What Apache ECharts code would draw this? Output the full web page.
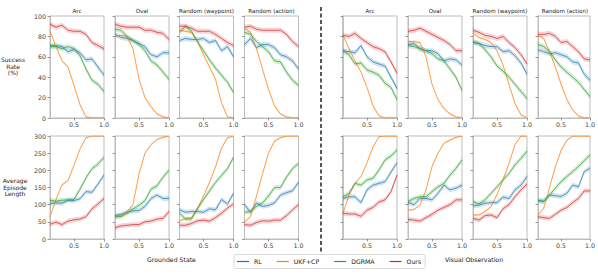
<!DOCTYPE html>
<html><head><meta charset="utf-8">
<script src="https://cdn.jsdelivr.net/npm/echarts@6/dist/echarts.min.js"></script>
<style>html,body{margin:0;padding:0;background:#fff}#c{width:598px;height:276px}</style>
</head><body><div id="c"></div>
<script>
// ---------- data ----------
const xs = [0.1, 0.2, 0.3, 0.4, 0.5, 0.6, 0.7, 0.8, 0.9, 1.0];
const methodNames = ['RL', 'UKF+CP', 'DGRMA', 'Ours'];
const columnTitles = ['Arc', 'Oval', 'Random (waypoint)', 'Random (action)'];
const xTickValues = [0.5, 1.0];
const groupLabels = ['Grounded State', 'Visual Observation'];
const rowLabels = ['Success\nRate\n(%)', 'Average\nEpisode\nLength'];

// Success rate (%) — order of rows: RL, UKF+CP, DGRMA, Ours
const srGroundedArc = [
  [71, 71, 70, 65, 67, 64, 57, 58, 50, 42],
  [85, 70, 56, 50, 32, 13, 1, 0, 0, 0],
  [70, 70, 68, 70, 68, 61, 48, 37, 33, 26],
  [92, 89, 91, 86, 85, 85, 82, 74, 71, 68]
];
const srGroundedOval = [
  [82, 79, 78, 76, 73, 70, 62, 60, 64, 64],
  [80, 81, 80, 68, 38, 20, 11, 4, 1, 0],
  [87, 86, 80, 76, 72, 66, 56, 52, 45, 38],
  [92, 90, 89, 89, 89, 86, 86, 84, 83, 77]
];
const srGroundedWaypoint = [
  [76, 78, 77, 77, 78, 74, 76, 66, 70, 60],
  [86, 85, 84, 75, 62, 50, 38, 15, 1, 0],
  [84, 90, 85, 75, 66, 57, 49, 42, 35, 25],
  [90, 90, 88, 85, 85, 85, 82, 78, 74, 71]
];
const srGroundedAction = [
  [72, 78, 69, 72, 72, 69, 62, 60, 56, 48],
  [88, 84, 68, 48, 28, 12, 4, 1, 0, 0],
  [84, 82, 75, 70, 65, 56, 55, 45, 37, 32],
  [89, 90, 87, 86, 86, 86, 86, 82, 75, 70]
];
const srVisualArc = [
  [66, 65, 64, 71, 60, 55, 53, 51, 40, 29],
  [81, 68, 56, 45, 30, 12, 2, 0, 0, 0],
  [66, 62, 53, 54, 47, 45, 42, 34, 30, 18],
  [81, 80, 83, 78, 74, 70, 68, 65, 55, 44]
];
const srVisualOval = [
  [72, 73, 68, 66, 66, 63, 56, 58, 57, 52],
  [75, 75, 74, 60, 33, 18, 9, 4, 1, 0],
  [71, 70, 68, 66, 63, 58, 56, 48, 40, 27],
  [85, 86, 88, 85, 82, 79, 76, 72, 66, 66]
];
const srVisualWaypoint = [
  [74, 73, 71, 70, 70, 65, 66, 61, 54, 43],
  [83, 79, 77, 74, 66, 52, 33, 14, 3, 0],
  [75, 73, 67, 60, 51, 46, 40, 33, 26, 19],
  [86, 84, 81, 80, 78, 80, 74, 69, 62, 53]
];
const srVisualAction = [
  [67, 65, 63, 64, 62, 60, 55, 54, 43, 37],
  [81, 78, 65, 50, 33, 18, 8, 2, 0, 0],
  [72, 70, 65, 57, 50, 45, 40, 35, 28, 21],
  [82, 82, 83, 80, 74, 75, 70, 65, 58, 57]
];

// Average episode length
const lenGroundedArc = [
  [103, 105, 104, 113, 112, 117, 138, 136, 160, 186],
  [65, 115, 158, 170, 215, 262, 295, 300, 300, 300],
  [113, 110, 113, 114, 115, 145, 178, 205, 218, 238],
  [43, 49, 42, 52, 56, 58, 65, 88, 102, 118]
];
const lenGroundedOval = [
  [68, 72, 78, 82, 83, 95, 118, 128, 118, 118],
  [66, 68, 80, 100, 190, 250, 275, 290, 296, 300],
  [65, 65, 75, 88, 98, 112, 145, 155, 180, 200],
  [33, 38, 40, 42, 42, 50, 52, 58, 60, 80]
];
const lenGroundedWaypoint = [
  [85, 78, 80, 80, 78, 88, 85, 115, 102, 133],
  [52, 60, 62, 90, 125, 165, 210, 265, 295, 300],
  [75, 58, 58, 88, 115, 140, 165, 185, 205, 238],
  [40, 40, 45, 53, 55, 52, 62, 75, 90, 102]
];
const lenGroundedAction = [
  [100, 78, 105, 95, 98, 105, 128, 135, 140, 165],
  [50, 65, 125, 190, 250, 285, 295, 300, 300, 300],
  [78, 80, 95, 105, 125, 150, 150, 180, 205, 220],
  [42, 40, 48, 53, 52, 55, 55, 68, 85, 100]
];
const lenVisualArc = [
  [118, 123, 123, 106, 143, 157, 162, 167, 195, 222],
  [75, 128, 162, 182, 222, 268, 298, 300, 300, 300],
  [123, 133, 162, 157, 172, 177, 201, 230, 242, 259],
  [75, 73, 73, 66, 84, 92, 108, 114, 138, 186]
];
const lenVisualOval = [
  [106, 100, 118, 118, 114, 133, 157, 143, 148, 157],
  [84, 86, 99, 143, 211, 250, 279, 288, 296, 300],
  [109, 118, 123, 123, 138, 152, 162, 186, 206, 230],
  [57, 55, 52, 62, 72, 84, 92, 100, 114, 114]
];
const lenVisualWaypoint = [
  [96, 99, 104, 106, 106, 122, 118, 143, 157, 182],
  [70, 70, 80, 94, 130, 172, 220, 275, 300, 300],
  [109, 102, 114, 133, 152, 172, 191, 216, 235, 256],
  [60, 55, 68, 70, 62, 88, 100, 123, 143, 160]
];
const lenVisualAction = [
  [112, 110, 128, 126, 124, 133, 157, 152, 196, 206],
  [70, 90, 150, 210, 258, 288, 300, 300, 300, 300],
  [112, 110, 128, 148, 167, 182, 196, 211, 228, 245],
  [65, 62, 60, 72, 84, 92, 106, 118, 140, 140]
];

// half-width of the shaded band (std) per method
const bandSR = [2.5, 1.2, 2.5, 2.5];
const bandLen = [7, 3, 7, 7];

// ---------- layout / style ----------
const colors = ['#1f77b4', '#ff7f0e', '#2ca02c', '#d62728'];
const panelLefts = [50, 115, 179.5, 244.5, 343, 408, 473, 538];
const panelWidth = 54;
const rowTops = [16, 136];
const rowHeights = [102, 103];
const rowMax = [100, 300];
const rowInterval = [20, 50];
const spine = '#bdbdbd';
const font = 'DejaVu Sans';

const panels = [
  srGroundedArc, srGroundedOval, srGroundedWaypoint, srGroundedAction,
  srVisualArc, srVisualOval, srVisualWaypoint, srVisualAction,
  lenGroundedArc, lenGroundedOval, lenGroundedWaypoint, lenGroundedAction,
  lenVisualArc, lenVisualOval, lenVisualWaypoint, lenVisualAction
];

const grid = [], xAxis = [], yAxis = [], series = [];
panels.forEach((pd, i) => {
  const row = i < 8 ? 0 : 1, col = i % 8;
  const ymax = rowMax[row];
  grid.push({
    left: panelLefts[col], top: rowTops[row], width: panelWidth, height: rowHeights[row],
    show: true, borderColor: spine, borderWidth: 1, backgroundColor: 'transparent'
  });
  xAxis.push({
    gridIndex: i, type: 'value', min: 0.1, max: 1.0,
    axisLine: { show: true, onZero: false, lineStyle: { color: spine, width: 1 } },
    splitLine: { show: false },
    axisTick: { show: true, customValues: xTickValues, length: 2.5, lineStyle: { color: '#555', width: 0.6 } },
    axisLabel: { show: true, customValues: xTickValues, formatter: v => v.toFixed(1),
      fontSize: 6.3, color: '#444', margin: 3, fontFamily: font, hideOverlap: false }
  });
  yAxis.push({
    gridIndex: i, type: 'value', min: 0, max: ymax, interval: rowInterval[row],
    axisLine: { show: true, lineStyle: { color: spine, width: col === 4 ? 1.6 : 1 } },
    splitLine: { show: false },
    axisTick: { show: true, length: 2.5, lineStyle: { color: '#555', width: 0.6 } },
    axisLabel: { show: col === 0, fontSize: 6.3, color: '#444', margin: 4, fontFamily: font }
  });
  const band = row === 0 ? bandSR : bandLen;
  pd.forEach((vals, k) => {
    const lo = vals.map(v => Math.max(0, v - band[k]));
    const hi = vals.map(v => Math.min(ymax, v + band[k]));
    series.push({
      type: 'custom', xAxisIndex: i, yAxisIndex: i, silent: true, z: 1,
      data: [[xs[0], vals[0]]],
      renderItem: (params, api) => {
        const pts = [];
        for (let j = 0; j < xs.length; j++) pts.push(api.coord([xs[j], hi[j]]));
        for (let j = xs.length - 1; j >= 0; j--) pts.push(api.coord([xs[j], lo[j]]));
        return { type: 'polygon', shape: { points: pts },
          style: { fill: colors[k], opacity: 0.2, stroke: 'none', lineWidth: 0 } };
      }
    });
  });
  pd.forEach((vals, k) => {
    series.push({
      name: methodNames[k], type: 'line', xAxisIndex: i, yAxisIndex: i,
      data: vals.map((v, j) => [xs[j], v]), symbol: 'none', showSymbol: false, z: 3,
      color: colors[k], lineStyle: { width: 0.9, color: colors[k], opacity: 0.8 }
    });
  });
});

const graphic = [];
// column titles
for (let g = 0; g < 2; g++) {
  columnTitles.forEach((t, c) => {
    const col = g * 4 + c;
    graphic.push({ type: 'text', x: panelLefts[col] + panelWidth / 2, y: 10.5,
      style: { text: t, fontSize: 5.6, fill: '#222', fontFamily: font, align: 'center', verticalAlign: 'middle' } });
  });
}
// row labels
graphic.push({ type: 'text', x: 13, y: 66, style: { text: rowLabels[0], fontSize: 6, lineHeight: 6.2,
  fill: '#222', fontFamily: font, align: 'center', verticalAlign: 'middle' } });
graphic.push({ type: 'text', x: 15, y: 187, style: { text: rowLabels[1], fontSize: 6, lineHeight: 6.6,
  fill: '#222', fontFamily: font, align: 'center', verticalAlign: 'middle' } });
// group labels
graphic.push({ type: 'text', x: 171.5, y: 259, style: { text: groupLabels[0], fontSize: 6.2,
  fill: '#222', fontFamily: font, align: 'center', verticalAlign: 'middle' } });
graphic.push({ type: 'text', x: 474, y: 259, style: { text: groupLabels[1], fontSize: 6.2,
  fill: '#222', fontFamily: font, align: 'center', verticalAlign: 'middle' } });
// dashed divider
graphic.push({ type: 'line', shape: { x1: 321, y1: 7, x2: 321, y2: 252 },
  style: { stroke: '#555', lineWidth: 2, lineDash: [4, 2.5] } });

const chart = echarts.init(document.getElementById('c'), null, { renderer: 'svg', width: 598, height: 276 });
chart.setOption({
  animation: false,
  backgroundColor: '#fff',
  textStyle: { fontFamily: font },
  legend: {
    data: methodNames, left: 234, top: 254.5, orient: 'horizontal',
    icon: 'rect', itemWidth: 12, itemHeight: 1.2, itemGap: 15, padding: [4, 4, 4, 3],
    borderColor: '#d0d0d0', borderWidth: 0.8, borderRadius: 2,
    textStyle: { fontSize: 6.2, color: '#222', fontFamily: font },
    selectedMode: false
  },
  grid, xAxis, yAxis, series, graphic
});
</script>
</body></html>
